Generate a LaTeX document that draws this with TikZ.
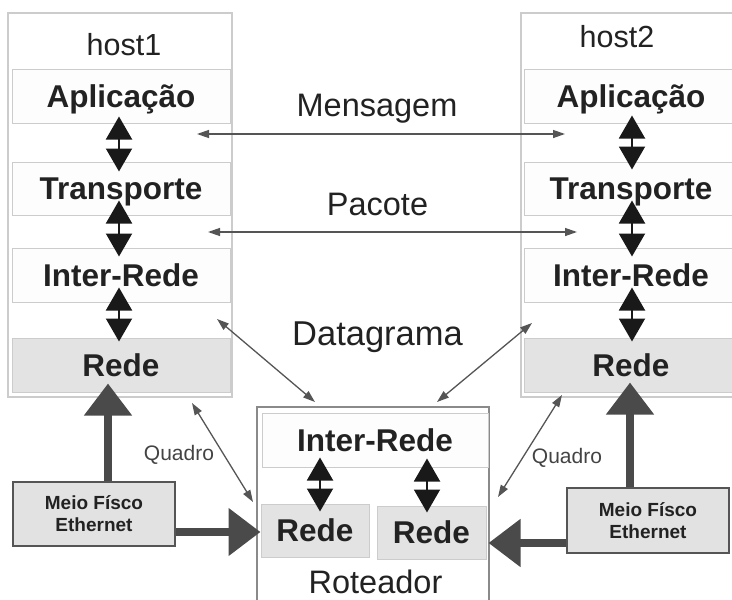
\documentclass[tikz,border=0pt]{standalone}
\usepackage{fontspec}
\setmainfont{Liberation Sans}
\usetikzlibrary{arrows.meta}
\definecolor{txt}{HTML}{222222}
\definecolor{boxgray}{HTML}{CCCCCC}
\definecolor{boxfill}{HTML}{FDFDFD}
\definecolor{redefill}{HTML}{E3E3E3}
\definecolor{arrowgray}{HTML}{555555}
\definecolor{thickgray}{HTML}{4A4A4A}
\definecolor{meiofill}{HTML}{E2E2E2}
\definecolor{meioborder}{HTML}{555555}
\definecolor{routerborder}{HTML}{8A8A8A}
\newcommand\lblbold{\fontsize{31.5}{36}\selectfont\bfseries}
\newcommand\lblreg{\fontsize{32.5}{36}\selectfont}
\newcommand\lblsmall{\fontsize{21}{24}\selectfont}
\newcommand\lblmeio{\fontsize{19}{22}\selectfont\bfseries}
\begin{document}
\begin{tikzpicture}[x=1pt,y=-1pt,
  outerbox/.style={draw=boxgray, fill=white, line width=1.2pt, inner sep=0pt},
  layer/.style={draw=boxgray, fill=boxfill, line width=1pt, minimum width=218pt,
    minimum height=54pt, inner sep=0pt, font=\lblbold, text=txt,
    text height=22.5pt, text depth=0pt},
  redebox/.style={layer, fill=redefill, draw=redefill!90!black},
  meiobox/.style={draw=meioborder, fill=meiofill, line width=1.2pt, minimum width=162pt,
    minimum height=64pt, inner sep=0pt, align=center, font=\lblmeio, text=txt},
  plain/.style={font=\lblreg, text=txt, inner sep=0pt, anchor=base},
  small/.style={font=\lblsmall, text=txt!85!white, inner sep=0pt, anchor=base},
  dbl/.style={draw=black!90, line width=2pt,
    {Triangle[width=26pt,length=23pt]}-{Triangle[width=26pt,length=23pt]}},
  thin/.style={draw=arrowgray, line width=1.3pt,
    {Triangle[width=8pt,length=12pt]}-{Triangle[width=8pt,length=12pt]}},
  thick/.style={draw=thickgray, line width=8pt, -{Triangle[width=46pt,length=32pt]}}
]
\useasboundingbox (0,0) rectangle (732,600);
\clip (0,0) rectangle (732,600);

% host boxes
\node[outerbox, minimum width=224pt, minimum height=384pt] (h1out) at (120,205) {};
\node[outerbox, minimum width=226pt, minimum height=384pt] (h2out) at (634,205) {};
\node[plain, font=\fontsize{30.5}{34}\selectfont] (h1lbl) at (124,55) {host1};
\node[plain, font=\fontsize{30.5}{34}\selectfont] (h2lbl) at (617,47) {host2};

\node[layer] (h1app) at (121,96) {Aplicação};
\node[layer, minimum height=53pt] (h1tra) at (121,188.5) {Transporte};
\node[layer] (h1int) at (121,275) {Inter-Rede};
\node[redebox] (h1rede) at (121,365) {Rede};

\node[layer] (h2app) at (633,96) {\hspace*{-4pt}Aplicação};
\node[layer, minimum height=53pt] (h2tra) at (633,188.5) {\hspace*{-4pt}Transporte};
\node[layer] (h2int) at (633,275) {\hspace*{-4pt}Inter-Rede};
\node[redebox] (h2rede) at (633,365) {\hspace*{-4pt}Rede};

% router
\node[draw=routerborder, fill=white, line width=1.2pt, minimum width=232pt,
  minimum height=220pt, inner sep=0pt] (rout) at (373,517) {};
\node[layer, minimum width=226pt] (rint) at (375,440) {Inter-Rede};
\node[redebox, minimum width=108pt, minimum height=53pt] (rl) at (315,530.5) {Rede};
\node[redebox, minimum width=109pt, minimum height=53pt] (rr) at (431.5,532.5) {Rede};
\node[plain] (rlbl) at (375.5,593) {Roteador};

% meio fisico
\node[meiobox] (m1) at (94,514) {Meio Físco\\Ethernet};
\node[meiobox, minimum height=65pt] (m2) at (648,520.5) {Meio Físco\\Ethernet};

% middle labels
\node[plain] (msg) at (377,116) {Mensagem};
\node[plain] (pac) at (377.5,215) {Pacote};
\node[plain, font=\fontsize{34.5}{38}\selectfont] (dat) at (377.5,345) {Datagrama};
\node[small] (q1) at (179,460) {Quadro};
\node[small] (q2) at (567,463) {Quadro};

% free ends
\coordinate (ma) at (197,134);
\coordinate (mb) at (565,134);
\coordinate (pa) at (208,232);
\coordinate (pb) at (577,232);
\coordinate (da) at (217,319);
\coordinate (db) at (315,402);
\coordinate (dc) at (532,323);
\coordinate (dd) at (437,402);
\coordinate (qa) at (192,403);
\coordinate (qb) at (253,502);
\coordinate (qc) at (562,395);
\coordinate (qd) at (498,497);

% vertical double arrows host1
\draw[dbl] ([xshift=-2pt,yshift=7pt]h1app.south) -- ([xshift=-2pt,yshift=-10pt]h1tra.north);
\draw[dbl] ([xshift=-2pt,yshift=15pt]h1tra.south) -- ([xshift=-2pt,yshift=-9pt]h1int.north);
\draw[dbl] ([xshift=-2pt,yshift=15pt]h1int.south) -- ([xshift=-2pt,yshift=-4pt]h1rede.north);
% host2
\draw[dbl] ([xshift=-1pt,yshift=8pt]h2app.south) -- ([xshift=-1pt,yshift=-8pt]h2tra.north);
\draw[dbl] ([xshift=-1pt,yshift=15pt]h2tra.south) -- ([xshift=-1pt,yshift=-9pt]h2int.north);
\draw[dbl] ([xshift=-1pt,yshift=15pt]h2int.south) -- ([xshift=-1pt,yshift=-4pt]h2rede.north);
% router
\draw[dbl] ([xshift=-55pt,yshift=10pt]rint.south) -- ([xshift=5pt,yshift=-8pt]rl.north);
\draw[dbl] ([xshift=52pt,yshift=9pt]rint.south) -- ([xshift=-4.5pt,yshift=-7pt]rr.north);

% thin arrows
\draw[thin] (ma) -- (mb);
\draw[thin] (pa) -- (pb);
\draw[thin] (da) -- (db);
\draw[thin] (dc) -- (dd);
\draw[thin] (qa) -- (qb);
\draw[thin] (qc) -- (qd);

% thick arrows
\draw[thick] ([xshift=14pt]m1.north) -- ([xshift=-13pt,yshift=9pt]h1rede.south);
\draw[thick] ([yshift=-18pt]m1.east) -- ([yshift=-1.5pt]rl.west);
\draw[thick] ([xshift=-18pt]m2.north) -- ([xshift=-3pt,yshift=10pt]h2rede.south);
\draw[thick] ([yshift=-22.5pt]m2.west) -- ([xshift=2pt,yshift=-10.5pt]rr.east);
\end{tikzpicture}
\end{document}
